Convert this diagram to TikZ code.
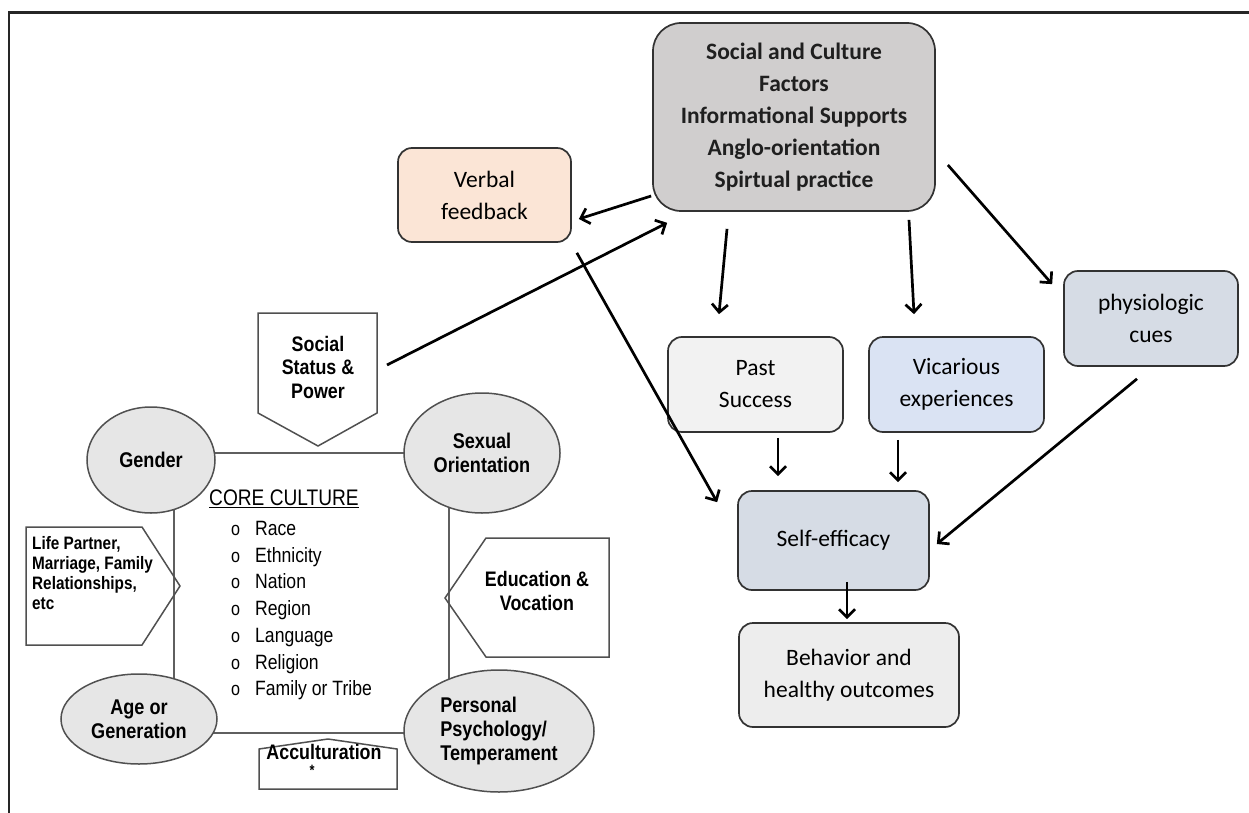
\documentclass[tikz,border=0pt]{standalone}
\usepackage{fontspec}
\setmainfont{Carlito}
\newfontfamily\narrowsans[FakeStretch=0.85]{Liberation Sans}
\usetikzlibrary{arrows.meta,calc,shapes.geometric,backgrounds}

\definecolor{topgray}{RGB}{208,206,206}
\definecolor{peach}{RGB}{251,229,214}
\definecolor{bluegray}{RGB}{214,220,229}
\definecolor{paleblue}{RGB}{218,227,243}
\definecolor{palegray}{RGB}{242,242,242}
\definecolor{midgray}{RGB}{237,237,237}
\definecolor{boxline}{RGB}{50,50,50}
\definecolor{ovalfill}{RGB}{230,230,230}
\definecolor{ovalline}{RGB}{80,80,80}
\definecolor{sqline}{RGB}{95,95,95}

\tikzset{
  box/.style={draw=boxline, line width=1.7pt, rounded corners=14pt, align=center,
    inner sep=0pt, font=\fontsize{23.5}{32}\selectfont},
  arr/.style={line width=2.7pt, -{Straight Barb[length=8pt,width=16pt]}},
  oval/.style={ellipse, draw=ovalline, line width=1.5pt, fill=ovalfill, inner sep=0pt,
    align=center, font=\narrowsans\bfseries\fontsize{21.3}{24}\selectfont},
  lab/.style={inner sep=0pt, align=center, font=\narrowsans\bfseries\fontsize{21}{23.5}\selectfont},
  pent/.style={draw=ovalline, line width=1.5pt, line join=miter},
  sq/.style={draw=sqline, line width=1.7pt},
  item/.style={anchor=west, inner sep=0pt, text height=15pt, text depth=0pt,
    font=\narrowsans\fontsize{20.7}{24}\selectfont}
}

\begin{document}
\begin{tikzpicture}[x=1pt,y=-1pt]
\useasboundingbox (0,0) rectangle (1249,813);

% outer frame (top and left edges)
\draw[line width=2.5pt, black!85] (9,813) -- (9,12.5) -- (1249,12.5);

% ---------- self-efficacy model ----------
\node[box, fill=topgray, rounded corners=28pt, minimum width=282, minimum height=188,
  text=black!88, font=\bfseries\fontsize{23.5}{32}\selectfont] (top) at (794,117)
  {Social and Culture\\Factors\\Informational Supports\\Anglo-orientation\\Spirtual practice};
\node[box, fill=peach, minimum width=173, minimum height=94] (verbal) at (484.5,195) {Verbal\\feedback};
\node[box, fill=bluegray, minimum width=174, minimum height=95] (physio) at (1151,318.5) {physiologic\\cues};
\node[box, fill=palegray, minimum width=175, minimum height=95] (past) at (755.5,384.5) {Past\\Success};
\node[box, fill=paleblue, minimum width=175, minimum height=95] (vic) at (956.5,384.5) {Vicarious\\experiences};
\node[box, fill=bluegray, minimum width=191, minimum height=99] (self) at (833.5,540.5) {Self-efficacy};
\node[box, fill=midgray, minimum width=220, minimum height=104] (behav) at (849,675) {Behavior and\\healthy outcomes};

% ---------- core culture model ----------
\node[oval, minimum width=128, minimum height=106] (gender) at (151,460) {Gender};
\node[oval, minimum width=156, minimum height=120] (sexual) at (482,453) {Sexual\\Orientation};
\node[oval, minimum width=156, minimum height=90] (age) at (139,719) {Age or\\Generation};
\node[oval, minimum width=190, minimum height=122, align=left] (personal) at (499,731) {Personal\\Psychology/\\Temperament};

\begin{pgfonlayer}{background}
  \draw[sq] ($(gender.center)+(0,-7)$) -- (sexual.center);
  \draw[sq] ($(gender.center)+(23,0)$) -- ($(age.center)+(35,0)$);
  \draw[sq] ($(sexual.center)+(-33,0)$) -- ($(personal.center)+(-50,0)$);
  \draw[sq] ($(age.center)+(0,14)$) -- ($(personal.center)+(0,2)$);
\end{pgfonlayer}

% pentagon tags around the core
\draw[pent] (258,313) -- (377,313) -- (377,413) -- (318,446) -- (258,413) -- cycle;
\node[lab] (social) at (318,367) {Social\\Status \&\\Power};

\draw[pent] (26,527) -- (142,527) -- (180,586) -- (142,645) -- (26,645) -- cycle;
\node[lab, align=left, anchor=north west, font=\narrowsans\bfseries\fontsize{18}{20}\selectfont]
  (partner) at (32,536) {Life Partner,\\Marriage, Family\\Relationships,\\etc};

\draw[pent] (609,538) -- (486,538) -- (445,598) -- (486,657) -- (609,657) -- cycle;
\node[lab] (educ) at (537,591) {Education \&\\Vocation};

\draw[pent] (259,789) -- (259,749) -- (328,739) -- (397,749) -- (397,789) -- cycle;
\node[lab] (accult) at (324,752) {Acculturation};
\node[inner sep=0pt, font=\narrowsans\bfseries\fontsize{15}{15}\selectfont] (star) at (312,770) {*};

% core culture list
\node[anchor=west, inner sep=0pt, font=\narrowsans\fontsize{22.5}{24}\selectfont] (core) at (209,499) {\underline{CORE CULTURE}};
\foreach \t [count=\i] in {Race,Ethnicity,Nation,Region,Language,Religion,Family or Tribe}{
  \node[item] (item\i) at (231,{528+26.7*(\i-1)})
    {\makebox[24pt][l]{\fontsize{19}{19}\selectfont o}\t};
}

% ---------- connectors ----------
\draw[arr] ($(top.west)+(-1,79)$) -- ($(verbal.east)+(7,24)$);
\draw[arr] ($(social)+(69,-2)$) -- ($(top.south west)+(15,11)$);
\draw[arr] ($(verbal.south east)+(5,10)$) -- ($(self.north west)+(-20,12)$);
\draw[arr] ($(top.south)+(-67,17)$) -- ($(past.north)+(-36.5,-22)$);
\draw[arr] ($(top.south)+(115,8)$) -- ($(vic.north)+(-42.5,-22)$);
\draw[arr] ($(top.east)+(12,48)$) -- ($(physio.north west)+(-11,14)$);
\draw[arr] ($(physio.south)+(-14,12)$) -- ($(self.east)+(7,3.5)$);
\draw[arr] ($(past.south)+(22.5,5)$) -- ($(self.north)+(-55.5,-14)$);
\draw[arr] ($(vic.south)+(-58.5,7)$) -- ($(self.north)+(64.5,-8)$);
\draw[arr] ($(self.south)+(13.5,-9)$) -- ($(behav.north)+(-2,-3)$);
\end{tikzpicture}
\end{document}
